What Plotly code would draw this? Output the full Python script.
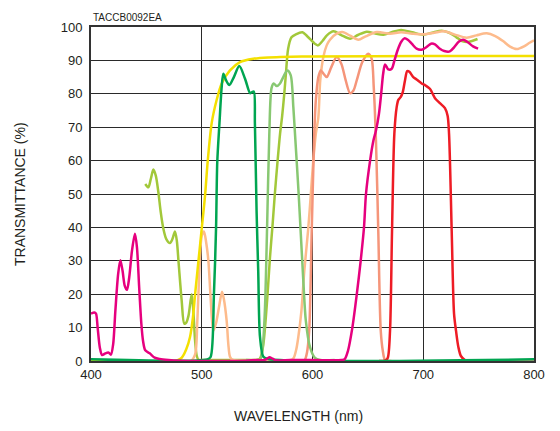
import plotly.graph_objects as go

# ---------------- data ----------------
x_ticks = [400, 500, 600, 700, 800]
y_ticks = [0, 10, 20, 30, 40, 50, 60, 70, 80, 90, 100]
chart_code = "TACCB0092EA"
x_title = "WAVELENGTH (nm)"
y_title = "TRANSMITTANCE (%)"

# yellow-green filter (blue band + long-pass part)
yg_wl = [449, 451.8, 454, 456.3, 458.5, 460.8, 463, 465.3, 468, 471.3, 473.5, 475.8, 477.5, 479, 481.9,
         484.2, 486, 488, 490.9, 492.4, 494, 495.5, 497, 500, 520, 545, 552, 554, 556, 559, 561.6, 564,
         566, 568.5, 570.7, 572.5, 574.5, 576, 578, 581, 585, 591, 595, 599, 602, 605, 609, 613,
         619, 626, 634, 641, 649, 656, 664, 672, 680, 690, 700, 708, 716.7, 724, 730, 735, 739.5, 744, 749]
yg_t = [53, 52, 54.5, 57.3, 55.5, 50.6, 44.5, 39.7, 36.5, 35.3, 36.5, 38.8, 36, 29.9, 18,
        11.2, 11.5, 13.5, 20, 15, 6, 1.5, 0.4, 0.3, 0.3, 0.3, 0.5, 2, 6, 18, 31, 41,
        50, 60, 68, 73, 80, 86, 93.5, 96.9, 97.8, 98.4, 97.3, 96, 95, 94.5, 95.8, 97.5,
        98.7, 97.6, 96.5, 97.6, 98.6, 98.1, 97.7, 98.5, 99.1, 98.4, 97.7, 98.3, 98.9, 98.2, 96.9, 95.8, 95.5, 95.8, 96.4]

# peach filter (small band near 500 nm + long-pass)
pe_wl = [400, 490, 494, 496, 498, 500, 502, 504, 506, 508, 510.4, 512.9, 515.5, 518.3, 520, 522.5,
         524, 525.5, 528, 560, 582, 585, 587.2, 590, 592.6, 596, 598.5, 600.7, 603, 605.3, 607,
         609.8, 612.8, 615.8, 621.8, 627, 634, 641.4, 648, 658, 670, 680, 690, 700, 710, 718.5,
         728, 739.2, 748, 757.3, 765, 772, 778, 784.4, 791, 796, 800]
pe_t = [0, 0, 2, 12, 28, 37.5, 38.8, 35.5, 30, 19, 9, 11.3, 16, 20.7, 18.5, 12,
        5, 1.3, 0.3, 0.3, 0.5, 3, 7.2, 15, 27, 39, 50, 60, 68, 73, 84,
        91, 94.5, 96.2, 98, 98.5, 97.4, 96.2, 97.2, 98.5, 98, 98.4, 98, 97.8, 98.3, 98.7,
        97.8, 96.8, 97.5, 98.1, 97.3, 95.8, 94.2, 93.4, 94.2, 95.3, 96]

# salmon band-pass (~600-665 nm)
sa_wl = [400, 590, 593, 595, 597, 599.3, 601.6, 603, 605.3, 607.5, 610, 612.8, 617, 621.8, 626,
         630, 633.9, 637, 640, 645, 650.4, 653.4, 655.3, 657.3, 659.4, 661.6, 663.5, 665.5, 670, 800]
sa_t = [0, 0, 0.3, 2.5, 9, 39, 68, 78, 85, 87, 86, 85, 88, 91, 89,
        84, 80.2, 81, 84.1, 89.5, 92, 90.5, 82, 66, 38.8, 9.2, 3, 0.3, 0, 0]

# yellow long-pass
ye_wl = [400, 476, 478.8, 482, 486, 489.4, 492, 494, 497, 500, 503, 505.3, 509, 513.5, 518,
         525.5, 534.5, 546.5, 560, 570.7, 600, 700, 800]
ye_t = [0, 0, 0.3, 1, 3.5, 7.2, 13, 20, 29.9, 39.7, 49.6, 59.5, 71.3, 78.2, 83.1,
        87, 89.5, 90.5, 90.9, 91, 91.2, 91.3, 91.3]

# red band-pass (~668-738 nm)
re_wl = [660, 666, 668, 670, 671.8, 673.9, 676, 677.5, 679.6, 681.5, 683.5, 685.5, 687.5, 691,
         694, 698.6, 702, 706, 710.6, 715, 719.6, 722, 723.3, 725.7, 727.8, 729.6, 731.7, 734, 737.7, 742]
re_t = [0, 0.2, 1, 9, 38.8, 68, 76, 78.2, 79, 80.5, 84, 86.8, 86.6, 85,
        84.3, 83.1, 82.5, 81.5, 78.7, 77.2, 75.7, 73.4, 68, 38.8, 14.2, 9, 4.2, 1.5, 0.3, 0]

# light green band-pass (~555-600 nm)
lg_wl = [540, 551, 553, 555, 557, 559, 561, 563, 565, 567.7, 570.5, 573.6, 577.2, 580.3, 582.7,
         584.2, 587.5, 591.7, 594, 597.7, 602, 607, 620]
lg_t = [0.3, 0.3, 0.6, 4, 15, 40, 68, 81.7, 83.1, 82.3, 83, 85, 87, 85.6, 76,
        68, 50, 24, 12, 4.2, 1, 0.3, 0.3]

# dark green band-pass (~508-555 nm)
dg_wl = [400, 505, 508, 511, 512.9, 514, 516, 518, 519.5, 522, 524.9, 529, 533.9, 539, 543.6,
         545, 547, 548, 549.5, 551, 552.6, 555.6, 560, 800]
dg_t = [0.5, 0.5, 1.2, 20, 39.7, 59.5, 71.3, 82, 86, 84, 82.6, 85, 88.3, 84.6, 80.2,
        80.4, 80.7, 71, 45, 26.9, 7.2, 1.3, 0.6, 0.5]

# magenta filter (blue peaks + red long-pass)
ma_wl = [400, 403, 404.5, 406, 408, 410, 413, 416, 418, 420, 422, 424.5, 426.5, 428.5, 430.5,
         432.5, 434.5, 437, 439.7, 441.5, 443.5, 445.5, 447, 449, 453, 457.5, 462, 470, 480,
         500, 520, 540, 550, 555, 558, 561, 564, 567, 580, 600, 620, 626, 629, 632, 636, 640,
         643.5, 646.5, 648.3, 652, 655, 657.3, 660, 662, 663.8, 665.5, 668.5, 671.5, 674, 677,
         680, 683, 686, 689.6, 694, 698.6, 703, 707, 710.6, 715, 719, 724, 728, 732, 736, 740,
         745, 749.5]
ma_t = [14.2, 14.5, 14.2, 10, 4, 1.8, 2.3, 2.5, 1.9, 5, 15, 26, 30.2, 27, 22.5,
        21.3, 25, 33, 38.1, 34, 22, 11, 6, 3.2, 2.3, 1, 0.6, 0.3, 0.1,
        0, 0, 0.1, 0.3, 0.2, 0.5, 1.1, 0.7, 0.2, 0.3, 0.3, 0.2, 0.3, 0.5, 3, 10, 20,
        30, 40, 50, 60, 66, 69, 74, 80, 86, 88.8, 87.3, 87.5, 90, 93.2,
        95.5, 96.6, 96.2, 95, 93.5, 93.2, 94, 95, 94.8, 93.5, 92.8, 92.7, 94, 95.6, 96.2, 95.5,
        94.2, 93.5]

series = [
    (yg_wl, yg_t, "#A2C83A"),
    (pe_wl, pe_t, "#FDBB8C"),
    (sa_wl, sa_t, "#F5957A"),
    (ye_wl, ye_t, "#F4E000"),
    (re_wl, re_t, "#EE1C25"),
    (lg_wl, lg_t, "#88C872"),
    (dg_wl, dg_t, "#00A551"),
    (ma_wl, ma_t, "#E6007E"),
]

fig = go.Figure()
for wl, t, col in series:
    fig.add_trace(go.Scatter(
        x=wl, y=t, mode="lines",
        line=dict(color=col, width=2.5, shape="spline", smoothing=0.8),
        hoverinfo="skip", showlegend=False,
    ))

font_family = "Arial, Liberation Sans, sans-serif"
fig.update_layout(
    width=552, height=423,
    margin=dict(l=83, r=26, t=15, b=70),
    paper_bgcolor="white", plot_bgcolor="white",
    font=dict(family=font_family, size=13, color="#231F20"),
    xaxis=dict(range=[400, 800], tickvals=x_ticks, ticktext=[str(v) for v in x_ticks],
               showgrid=True, gridcolor="#2a2a2a", gridwidth=1, zeroline=False,
               showline=True, linecolor="#333333", linewidth=2, mirror=True,
               ticks="", tickfont=dict(size=13, color="#231F20", family=font_family)),
    yaxis=dict(range=[0, 100], tickvals=y_ticks, ticktext=[str(v) for v in y_ticks],
               showgrid=True, gridcolor="#2a2a2a", gridwidth=1, zeroline=False,
               showline=True, linecolor="#333333", linewidth=2, mirror=True,
               ticks="", ticklabelstandoff=4,
               tickfont=dict(size=13, color="#231F20", family=font_family)),
    annotations=[
        dict(text=chart_code, xref="paper", yref="paper", x=0, y=1, xanchor="left", yanchor="bottom",
             yshift=2, showarrow=False, font=dict(size=10, color="#231F20", family=font_family)),
        dict(text=x_title, xref="paper", yref="paper", x=0.5, y=0, xanchor="center", yanchor="middle",
             xshift=-14, yshift=-55, showarrow=False,
             font=dict(size=14, color="#231F20", family=font_family)),
        dict(text=y_title, xref="paper", yref="paper", x=0, y=0.5, xanchor="center", yanchor="middle",
             xshift=-71, textangle=-90, showarrow=False,
             font=dict(size=14, color="#231F20", family=font_family)),
    ],
)

fig.write_html("out.html")
